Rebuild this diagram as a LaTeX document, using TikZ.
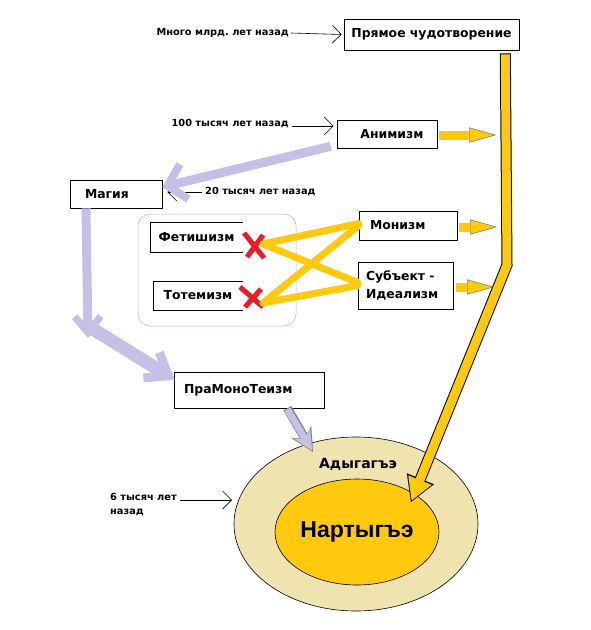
\documentclass[tikz,border=0pt]{standalone}
\usepackage{fontspec}
\setmainfont{DejaVu Sans}
\newfontfamily\narrowfont{Liberation Sans}
\usetikzlibrary{arrows.meta,shapes.geometric}
\definecolor{gold}{RGB}{255,201,14}
\definecolor{cream}{RGB}{239,228,176}
\definecolor{lav}{RGB}{200,191,231}
\definecolor{lavgray}{RGB}{185,180,220}
\definecolor{xred}{RGB}{237,28,36}
\begin{document}
\begin{tikzpicture}[x=1pt,y=-1pt,
  box/.style={draw=black, line width=0.6pt, rectangle, inner sep=0pt, font=\bfseries\fontsize{12.4}{18}\selectfont},
  openbox/.style={rectangle, inner sep=0pt, font=\bfseries\fontsize{12.4}{18}\selectfont},
  lbl/.style={font=\bfseries\fontsize{9.8}{14}\selectfont, inner sep=0pt},
  thinarrow/.style={line width=0.6pt, -{Straight Barb[length=9pt,width=18pt,line width=0.6pt]}},
  goldarrow/.style={gold, line width=9pt, -{Triangle[length=27pt,width=15pt,color=black!60,fill=gold,line width=0.4pt]}},
  cross/.style={gold, line width=7pt, line cap=round},
  redx/.style={xred, line width=5pt},
]
\useasboundingbox (0,0) rectangle (591,630);
\fill[white] (0,0) rectangle (591,630);

% ellipses
\node[ellipse, draw=black, line width=0.6pt, fill=cream, minimum width=244pt, minimum height=174pt, inner sep=0pt] (ad) at (356,524) {};
\node[ellipse, draw=black, line width=0.6pt, fill=gold, minimum width=164pt, minimum height=106pt, inner sep=0pt,
      font=\narrowfont\bfseries\fontsize{23}{26}\selectfont] (na) at (357,532) {Нартыгъэ};
\node[font=\bfseries\fontsize{14}{16}\selectfont, inner sep=0pt] (adt) at (358,464) {Адыгагъэ};

% group box
\node[draw=lavgray, line width=0.5pt, rounded corners=12pt, minimum width=158pt, minimum height=112pt, inner sep=0pt] (grp) at (217,270) {};

% boxes
\node[box, minimum width=175pt, minimum height=31pt] (pc) at (431.5,34.5) {Прямое чудотворение};
\node[box, minimum width=100pt, minimum height=28pt] (an) at (387,134) {\hspace*{10pt}Анимизм};
\node[box, minimum width=92pt, minimum height=28pt, text width=62pt, inner xsep=15pt, align=left] (mg) at (116,194) {Магия};
\node[openbox, minimum width=93pt, minimum height=30pt] (fe) at (196.5,237) {Фетишизм};
\draw[line width=0.6pt] (fe.north east) -- (fe.north west) -- (fe.south west) -- (fe.south east);
\node[openbox, minimum width=90pt, minimum height=29pt] (to) at (198,295.5) {Тотемизм};
\draw[line width=0.6pt] (to.north east) -- (to.north west) -- (to.south west) -- (to.south east);
\node[box, minimum width=98pt, minimum height=29pt, text width=76pt, inner xsep=11pt, align=left] (mo) at (408,225.5) {Монизм};
\node[box, minimum width=95pt, minimum height=47pt, text width=79pt, inner xsep=8pt, align=left] (su) at (405.5,285.5) {Субъект -\\Идеализм};
\node[box, minimum width=150pt, minimum height=36pt, text width=130pt, inner xsep=10pt, align=left] (pmt) at (249,390) {ПраМоноТеизм};

% time labels
\node[lbl, anchor=east] (l1) at (289,33) {Много млрд.\ лет назад};
\node[lbl, anchor=east] (l2) at (289,124) {100 тысяч лет назад};
\node[lbl, anchor=west] (l3) at (205,192) {20 тысяч лет назад};
\node[lbl, anchor=north west, align=left] (l4) at (110,493) {6 тысяч лет\\назад};
\coordinate (l4a) at (180,500);
\coordinate (adl) at (232,500);

\draw[thinarrow] ([xshift=2pt]l1.east) -- ([xshift=-2pt]pc.west);
\draw[thinarrow] ([xshift=3pt,yshift=-2pt]l2.east) -- ([xshift=-3pt,yshift=8pt]an.west);
\draw[thinarrow] ([xshift=-3pt]l3.west) -- ([xshift=5pt,yshift=2pt]mg.east);
\draw[thinarrow] (l4a) -- (adl);

% red crosses
\coordinate (fx) at (255,245);
\coordinate (tx) at (252,298);
\draw[redx] ([xshift=-11pt,yshift=12pt]fx) -- ([xshift=9pt,yshift=-13pt]fx);
\draw[redx] ([xshift=8pt,yshift=10pt]fx) -- ([xshift=-8pt,yshift=-12pt]fx);
\draw[redx] ([xshift=-12pt,yshift=11pt]tx) -- ([xshift=11pt,yshift=-9pt]tx);
\draw[redx] ([xshift=9pt,yshift=9pt]tx) -- ([xshift=-7pt,yshift=-9pt]tx);

% yellow crossing lines
\coordinate (fxr) at (263,244);
\coordinate (txr) at (263,303);
\draw[cross] (fxr) -- ([yshift=2pt]mo.west);
\draw[cross] (fxr) -- ([yshift=3pt]su.west);
\draw[cross] (txr) -- ([yshift=0pt]mo.west);
\draw[cross] (txr) -- ([yshift=0pt]su.west);

% small yellow arrows
\coordinate (anr) at (496,135);
\coordinate (mor) at (497,227);
\coordinate (sur) at (494,287);
\draw[goldarrow] ([xshift=2pt,yshift=-1pt]an.east) -- (anr);
\draw[goldarrow] ([xshift=2pt,yshift=-1.5pt]mo.east) -- (mor);
\draw[goldarrow] ([xshift=3pt,yshift=-1.5pt]su.east) -- (sur);

% big yellow arrow
\coordinate (ytop) at ([xshift=-14pt,yshift=-3pt]pc.south east);
\coordinate (ybend) at (507,265);
\coordinate (ytip) at (411,502);
\draw[black, line width=11pt, line join=miter, -{Triangle[length=25pt,width=29pt,line width=0.1pt]}] (ytop) -- (ybend) -- (ytip);
\draw[gold, line width=9pt, line join=miter, shorten >=1.6pt, -{Triangle[length=22pt,width=25pt,line width=0.1pt]}] ([yshift=-1pt]ytop) -- (ybend) -- (ytip);

% lavender arrows
\coordinate (mgb) at (88,338);
\coordinate (adtip) at (313,452);
\draw[lav, line width=9pt, -{Straight Barb[length=17pt,width=36pt,line width=8pt]}] ([xshift=-6pt,yshift=2pt]an.south west) -- ([yshift=7pt]mg.east);
\draw[lav, line width=9pt, -{Straight Barb[length=16pt,width=26pt,line width=7pt]}] ([xshift=-30pt]mg.south) -- (mgb);
\draw[lav, line width=13pt, -{Straight Barb[length=20pt,width=30pt,line width=9pt]}] ([yshift=12pt]mgb) -- ([xshift=1pt,yshift=-8pt]pmt.north west);
\draw[black!50, line width=9pt, -{Stealth[length=23pt,width=23pt,inset=7pt,line width=0.1pt]}] ([xshift=-37pt]pmt.south east) -- (adtip);
\draw[lav, line width=7pt, shorten >=1.5pt, -{Stealth[length=20pt,width=19pt,inset=6pt,line width=0.1pt]}] ([xshift=-37pt,yshift=-1pt]pmt.south east) -- (adtip);
\end{tikzpicture}
\end{document}
